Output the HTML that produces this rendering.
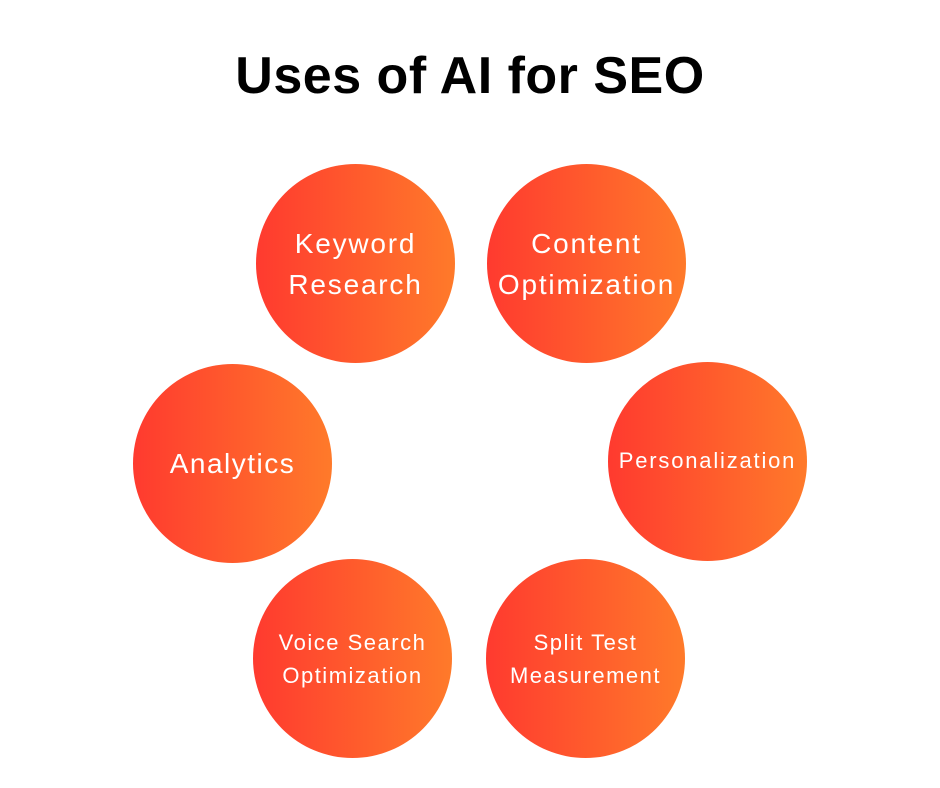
<!DOCTYPE html>
<html><head><meta charset="utf-8"><style>
body{margin:0;width:940px;height:788px;background:#fff;position:relative;overflow:hidden;font-family:"Liberation Sans",sans-serif}
h1{position:absolute;left:0;width:940px;top:46px;margin:0;text-align:center;font-size:52px;font-weight:bold;color:#000;letter-spacing:0.5px}
.c{position:absolute;width:199px;height:199px;border-radius:50%;background:linear-gradient(90deg,#ff3a2f,#ff7a2a);color:#fff;display:flex;align-items:center;justify-content:center;text-align:center;line-height:1.4;letter-spacing:1.5px;white-space:nowrap}
</style></head><body>
<h1>Uses of AI for SEO</h1>
<div class="c" style="left:256px;top:164px;font-size:28px;line-height:41px;letter-spacing:1.8px">Keyword<br>Research</div>
<div class="c" style="left:487px;top:164px;font-size:28px;line-height:41px;letter-spacing:1.8px">Content<br>Optimization</div>
<div class="c" style="left:133px;top:364px;font-size:28px;letter-spacing:1.5px">Analytics</div>
<div class="c" style="left:608px;top:362px;font-size:22px;letter-spacing:1.8px">Personalization</div>
<div class="c" style="left:253px;top:559px;font-size:22px;line-height:33px;letter-spacing:1.5px">Voice Search<br>Optimization</div>
<div class="c" style="left:486px;top:559px;font-size:22px;line-height:33px;letter-spacing:1.5px">Split Test<br>Measurement</div>
</body></html>
